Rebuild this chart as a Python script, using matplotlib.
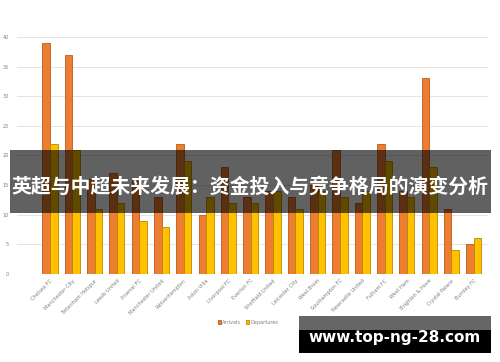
import numpy as np
import matplotlib
matplotlib.use("Agg")
import matplotlib.pyplot as plt
from matplotlib.patches import Rectangle

# data -------------------------------------------------------------
teams = ["Chelsea FC", "Manchester City", "Tottenham Hotspur", "Leeds United",
         "Arsenal FC", "Manchester United", "Wolverhampton", "Aston Villa",
         "Liverpool FC", "Everton FC", "Sheffield United", "Leicester City",
         "West Brom", "Southampton FC", "Newcastle United", "Fulham FC",
         "West Ham", "Brighton & Hove", "Crystal Palace", "Burnley FC"]
arrivals = [39, 37, 16, 17, 16, 13, 22, 10, 18, 13, 14, 13, 15, 21, 12, 22, 14, 33, 11, 5]
departures = [22, 21, 11, 12, 9, 8, 19, 13, 12, 12, 14, 11, 14, 13, 14, 19, 13, 18, 4, 6]
yticks = [0, 5, 10, 15, 20, 25, 30, 35, 40]

title = "英超与中超未来发展：资金投入与竞争格局的演变分析"
watermark = "www.top-ng-28.com"

orange = "#ED7D31"
yellow = "#FFC000"

#-------------------------------------------------------------------
plt.rcParams['font.family'] = ['DejaVu Sans']

fig = plt.figure(figsize=(5.0, 3.62), dpi=100)
ax = fig.add_axes([0.034, 0.243, 0.942, 0.655])

x = np.arange(len(teams))
w = 0.34
ax.bar(x - w/2, arrivals, width=w, color=orange, edgecolor="#B85C1E", linewidth=0.6,
       label="Arrivals", zorder=3)
ax.bar(x + w/2, departures, width=w, color=yellow, edgecolor="#B88A00", linewidth=0.6,
       label="Departures", zorder=3)

ax.set_xlim(-1.48, 19.64)
ax.set_ylim(0, 40)
ax.set_yticks(yticks)
ax.yaxis.grid(True, color="#E4E4E4", linewidth=0.7, zorder=0)
ax.set_axisbelow(True)
for s in ax.spines.values():
    s.set_visible(False)
ax.axhline(0, color="#E0E0E0", linewidth=0.8, zorder=1)

ax.set_xticks(x)
ax.set_xticklabels(teams, rotation=45, ha="right", rotation_mode="anchor",
                   fontsize=3.6, color="#7F7F7F")
ax.tick_params(axis="both", length=0, pad=3)
ax.tick_params(axis="y", labelsize=3.6, labelcolor="#7F7F7F", pad=6)

leg = fig.legend(loc="center", bbox_to_anchor=(0.496, 0.11), ncol=2, frameon=False,
                 fontsize=3.6, handlelength=0.6, handleheight=0.6, handletextpad=0.3,
                 columnspacing=1.0)
for t in leg.get_texts():
    t.set_color("#7F7F7F")

# title banner
fig.patches.append(Rectangle((0.02, 0.412), 0.962, 0.174, transform=fig.transFigure,
                             facecolor="black", alpha=0.62, edgecolor="none", zorder=5))
fig.text(0.5, 0.487, title, ha="center", va="center", color="white",
         fontsize=14.3, fontweight="bold", family=["Noto Sans CJK SC", "DejaVu Sans"],
         zorder=6)

# watermark box
fig.patches.append(Rectangle((0.598, 0.088), 0.384, 0.039, transform=fig.transFigure,
                             facecolor="#666666", edgecolor="none", zorder=5))
fig.patches.append(Rectangle((0.598, 0.025), 0.384, 0.064, transform=fig.transFigure,
                             facecolor="black", edgecolor="none", zorder=5))
fig.text(0.79, 0.069, watermark, ha="center", va="center", color="white",
         fontsize=11, fontweight="bold", zorder=6)

fig.savefig("out.png", dpi=100)
